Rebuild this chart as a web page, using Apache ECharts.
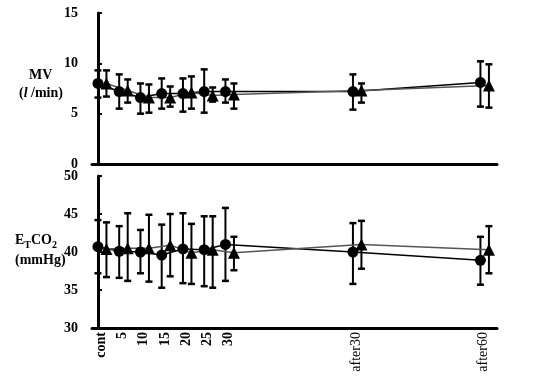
<!DOCTYPE html>
<html><head><meta charset="utf-8">
<script src="https://cdn.jsdelivr.net/npm/echarts@6/dist/echarts.min.js"></script>
<style>html,body{margin:0;padding:0;background:#fff}#c{width:541px;height:381px}</style>
</head><body><div id="c"></div>
<script>
// time points (minutes) and tick labels
const times = [0, 5, 10, 15, 20, 25, 30, 60, 90];
const tickLabels = ['cont', '5', '10', '15', '20', '25', '30', 'after30', 'after60'];

// MV (l/min)
const mvCircle   = [8.0, 7.2, 6.6, 7.0, 7.0, 7.2, 7.2, 7.2, 8.1];
const mvCircleHi = [9.3, 8.9, 8.0, 8.5, 8.5, 9.4, 8.4, 8.9, 10.2];
const mvCircleLo = [6.6, 5.5, 5.0, 5.5, 5.2, 5.1, 6.1, 5.4, 5.7];
const mvTri      = [8.0, 7.3, 6.6, 6.6, 7.1, 6.8, 6.9, 7.3, 7.8];
const mvTriHi    = [9.3, 8.4, 7.9, 7.7, 8.7, 7.6, 8.0, 8.0, 9.9];
const mvTriLo    = [6.7, 6.1, 5.1, 5.7, 5.5, 6.2, 5.5, 6.1, 5.6];

// ETCO2 (mmHg)
const coCircle   = [40.7, 40.1, 40.0, 39.6, 40.4, 40.3, 41.0, 40.0, 38.9];
const coCircleHi = [44.2, 43.4, 42.9, 43.6, 45.1, 44.7, 45.8, 43.8, 42.0];
const coCircleLo = [37.2, 36.6, 37.2, 35.3, 35.9, 35.5, 36.2, 35.8, 35.7];
const coTri      = [40.4, 40.5, 40.5, 40.9, 39.9, 40.3, 39.9, 41.0, 40.3];
const coTriHi    = [43.9, 45.1, 44.9, 45.0, 43.7, 44.7, 42.0, 44.1, 43.4];
const coTriLo    = [36.7, 36.2, 36.1, 36.8, 35.8, 35.3, 37.6, 37.8, 37.2];

const TRI_SHIFT = 2;      // triangles drawn slightly right of circles
const LABEL_SHIFT = 0.8;  // tick labels slightly right of the time point
const FONT = '"Liberation Serif", "Times New Roman", serif';

const labelVals = times.map(t => +(t + LABEL_SHIFT).toFixed(2));

function pts(vals, shift) { return vals.map((v, i) => [times[i] + shift, v]); }
function errData(hi, lo, shift) { return hi.map((h, i) => [times[i] + shift, lo[i], h]); }

function errSeries(hi, lo, shift, gi) {
  return {
    type: 'custom', xAxisIndex: gi, yAxisIndex: gi, z: 2,
    data: errData(hi, lo, shift),
    renderItem: function (params, api) {
      const x = api.value(0);
      const p1 = api.coord([x, api.value(1)]);
      const p2 = api.coord([x, api.value(2)]);
      const w = 3.5;
      const st = { stroke: '#000', lineWidth: 2 };
      return { type: 'group', children: [
        { type: 'line', shape: { x1: p1[0], y1: p1[1], x2: p2[0], y2: p2[1] }, style: st },
        { type: 'line', shape: { x1: p1[0] - w, y1: p1[1], x2: p1[0] + w, y2: p1[1] }, style: { stroke: '#000', lineWidth: 2.5 } },
        { type: 'line', shape: { x1: p2[0] - w, y1: p2[1], x2: p2[0] + w, y2: p2[1] }, style: { stroke: '#000', lineWidth: 2.5 } }
      ]};
    }
  };
}

function lineSeries(vals, shift, gi, symbol, color) {
  return {
    type: 'line', xAxisIndex: gi, yAxisIndex: gi, z: 3,
    data: pts(vals, shift),
    symbol: symbol, symbolSize: symbol === 'circle' ? 11 : 12,
    itemStyle: { color: '#000', borderWidth: 0 },
    lineStyle: { color: color, width: 1.5 },
    animation: false
  };
}

const xAxisBase = {
  type: 'value', min: -1.4, max: 93.9,
  axisLine: { show: true, lineStyle: { color: '#000', width: 3 } },
  axisTick: { show: false }, splitLine: { show: false }
};
const yLabel = { color: '#000', fontFamily: FONT, fontWeight: 'bold', fontSize: 14, margin: 14 };
const yAxisBase = {
  type: 'value',
  axisLine: { show: true, lineStyle: { color: '#000', width: 3 } },
  axisTick: { show: true, inside: true, length: 4, lineStyle: { color: '#000', width: 2 } },
  splitLine: { show: false },
  axisLabel: yLabel
};

const chart = echarts.init(document.getElementById('c'));
chart.setOption({
  animation: false,
  backgroundColor: '#fff',
  grid: [
    { left: 92, top: 13, width: 405, height: 151 },
    { left: 92, top: 176, width: 405, height: 152 }
  ],
  xAxis: [
    Object.assign({}, xAxisBase, { gridIndex: 0, axisLabel: { show: false } }),
    Object.assign({}, xAxisBase, { gridIndex: 1,
      axisLabel: {
        show: true, rotate: 90, margin: 4, customValues: labelVals,
        color: '#000', fontFamily: FONT, fontSize: 14,
        formatter: function (v) {
          let idx = -1;
          labelVals.forEach((lv, i) => { if (Math.abs(lv - v) < 0.01) idx = i; });
          if (idx < 0) return '';
          const t = tickLabels[idx];
          return t.indexOf('after') === 0 ? '{n|' + t + '}' : '{b|' + t + '}';
        },
        rich: {
          b: { fontFamily: FONT, fontWeight: 'bold', fontSize: 14, color: '#000' },
          n: { fontFamily: FONT, fontWeight: 'normal', fontSize: 14, color: '#000' }
        }
      }
    })
  ],
  yAxis: [
    Object.assign({}, yAxisBase, { gridIndex: 0, min: 0, max: 15, interval: 5 }),
    Object.assign({}, yAxisBase, { gridIndex: 1, min: 30, max: 50, interval: 5 })
  ],
  graphic: [
    { type: 'text', left: 29, top: 68, style: { text: 'MV', font: 'bold 14px ' + FONT, fill: '#000' } },
    { type: 'text', left: 19, top: 86, style: {
        text: '{p|(}{i|l}{p| /min)}', fill: '#000',
        rich: { p: { font: 'bold 14px ' + FONT }, i: { font: 'italic bold 14px ' + FONT } } } },
    { type: 'text', left: 15, top: 233, style: {
        text: '{b|E}{s|T}{b|CO}{s|2}', fill: '#000',
        rich: { b: { font: 'bold 14px ' + FONT, verticalAlign: 'bottom' },
                s: { font: 'bold 10px ' + FONT, verticalAlign: 'bottom', padding: [0, 0, -3, 0] } } } },
    { type: 'text', left: 15, top: 253, style: { text: '(mmHg)', font: 'bold 14px ' + FONT, fill: '#000' } }
  ],
  series: [
    errSeries(mvCircleHi, mvCircleLo, 0, 0),
    errSeries(mvTriHi, mvTriLo, TRI_SHIFT, 0),
    lineSeries(mvCircle, 0, 0, 'circle', '#000'),
    lineSeries(mvTri, TRI_SHIFT, 0, 'triangle', '#555'),
    errSeries(coCircleHi, coCircleLo, 0, 1),
    errSeries(coTriHi, coTriLo, TRI_SHIFT, 1),
    lineSeries(coCircle, 0, 1, 'circle', '#000'),
    lineSeries(coTri, TRI_SHIFT, 1, 'triangle', '#555')
  ]
});
</script></body></html>
